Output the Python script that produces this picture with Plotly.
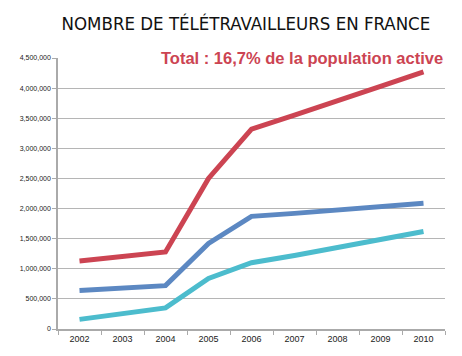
import plotly.graph_objects as go

years = ["2002", "2003", "2004", "2005", "2006", "2007", "2008", "2009", "2010"]
total = [1130000, 1200000, 1280000, 2500000, 3320000, 3550000, 3800000, 4030000, 4270000]
salaries = [640000, 680000, 720000, 1420000, 1870000, 1920000, 1970000, 2040000, 2090000]
non_salaries = [160000, 250000, 350000, 840000, 1100000, 1220000, 1360000, 1490000, 1620000]
y_ticks = [0, 500000, 1000000, 1500000, 2000000, 2500000, 3000000, 3500000, 4000000, 4500000]

red = "#cc4452"
blue = "#5c88c2"
teal = "#4cbccd"

fig = go.Figure()
for vals, col in [(non_salaries, teal), (salaries, blue), (total, red)]:
    fig.add_trace(go.Scatter(x=years, y=vals, mode="lines",
                             line=dict(color=col, width=5), showlegend=False,
                             hoverinfo="skip"))

fig.update_layout(
    width=462, height=356,
    margin=dict(l=39, r=25, t=50, b=35),
    paper_bgcolor="white", plot_bgcolor="white",
    title=dict(text="NOMBRE DE TÉLÉTRAVAILLEURS EN FRANCE",
               font=dict(family="Liberation Sans Narrow, DejaVu Sans Condensed", size=18.5, color="#111"),
               x=0.515, xanchor="center", y=0.955, yanchor="middle"),
    xaxis=dict(type="category", range=[-0.5, 8.5], tickson="boundaries",
               ticks="outside", ticklen=4, tickcolor="#aaa",
               showline=True, linecolor="#aaa", linewidth=1.5, showgrid=False,
               tickfont=dict(family="Liberation Sans", size=9, color="#222")),
    yaxis=dict(range=[0, 4500000], tickvals=y_ticks, tickformat=",d",
               ticks="outside", ticklen=4, tickcolor="#aaa",
               showline=True, linecolor="#aaa", linewidth=1.5,
               showgrid=True, gridcolor="#b5b5b5", gridwidth=1, zeroline=False,
               tickfont=dict(family="Liberation Sans", size=7, color="#222")),
    annotations=[
        dict(text="<b>Total : 16,7% de la population active</b>", x=0.63, y=4500000,
             xref="paper", yref="y", xanchor="center", yanchor="middle",
             showarrow=False, bgcolor="white",
             font=dict(family="Liberation Sans", size=16.5, color=red)),
        dict(text="<b>Salariés</b>", x="2010", y=2260000, xref="x", yref="y",
             xanchor="right", yanchor="middle", showarrow=False,
             font=dict(family="Liberation Sans", size=15, color=blue)),
        dict(text="<b>Non-salariés</b>", x="2010", y=1770000, xref="x", yref="y",
             xanchor="right", yanchor="middle", showarrow=False,
             font=dict(family="Liberation Sans", size=15, color=teal)),
    ],
)

fig.write_html("out.html")
